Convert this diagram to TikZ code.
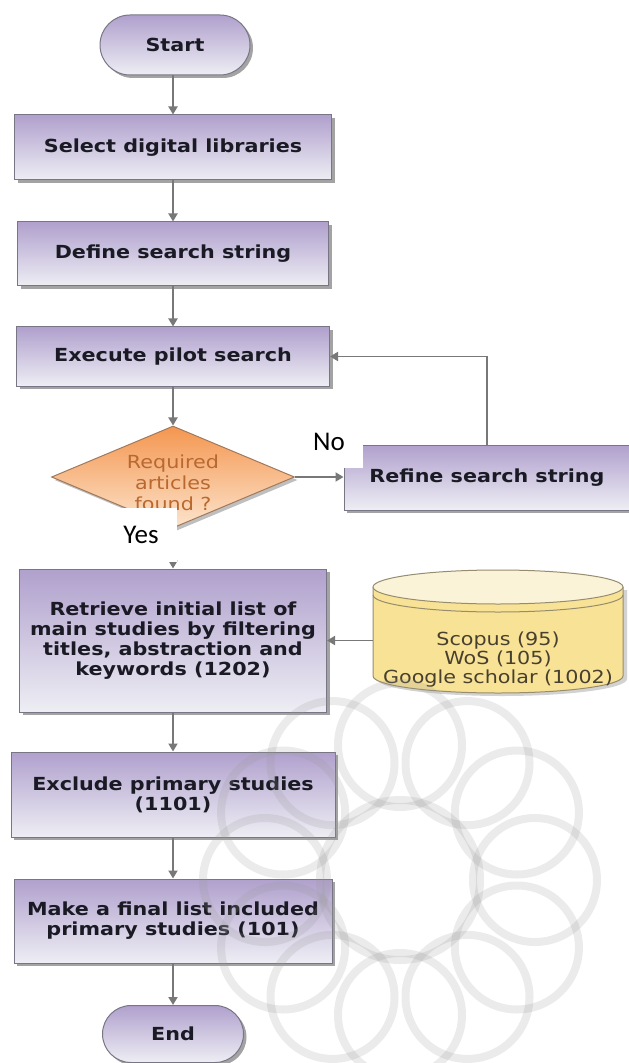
\documentclass[tikz,border=0pt]{standalone}
\usepackage{fontspec}
\setmainfont{DejaVu Sans}[FakeStretch=1.15]
\newfontfamily\yesnofont{Carlito}
\usetikzlibrary{shapes.geometric,shapes.misc,shadows,arrows.meta}

\definecolor{boxtop}{RGB}{176,160,205}
\definecolor{boxbot}{RGB}{238,238,244}
\definecolor{boxline}{RGB}{120,118,132}
\definecolor{boxtext}{RGB}{26,26,36}
\definecolor{linegray}{RGB}{120,120,120}
\definecolor{dectop}{RGB}{244,150,80}
\definecolor{decbot}{RGB}{252,228,204}
\definecolor{dectext}{RGB}{185,105,48}
\definecolor{dbtop}{RGB}{251,243,216}
\definecolor{dbbody}{RGB}{248,226,150}
\definecolor{dbline}{RGB}{150,140,110}
\definecolor{dbtext}{RGB}{72,64,46}

\begin{document}
\begin{tikzpicture}[x=0.5pt,y=-0.5pt,
    proc/.style={rectangle, draw=boxline, line width=0.5pt, top color=boxtop, bottom color=boxbot,
        drop shadow={shadow xshift=1.5pt, shadow yshift=-1.5pt, fill=black!60, opacity=0.6},
        font=\bfseries\fontsize{9}{10}\selectfont, text=boxtext, align=center, inner sep=0pt},
    term/.style={proc, rounded rectangle},
    decide/.style={diamond, aspect=2.38, draw=boxline!70!orange, line width=0.5pt, top color=dectop, bottom color=decbot,
        drop shadow={shadow xshift=1.5pt, shadow yshift=-1.5pt, fill=black!50, opacity=0.5}, inner sep=0pt},
    dectxt/.style={font=\fontsize{9}{10.5}\selectfont, text=dectext, align=center, inner sep=0pt},
    arr/.style={draw=linegray, line width=0.9pt, -{Triangle[width=4.5pt,length=4pt]}},
    yesno/.style={fill=white, font=\yesnofont\fontsize{13.5}{14}\selectfont, inner sep=0pt},
    mark line/.style={draw=gray!80, line width=4pt, opacity=0.2}
]
\useasboundingbox (0,0) rectangle (628,1063);

\node [term, minimum width=75pt, minimum height=30pt] (start) at (175,45) {Start};
\node [proc, minimum width=158.5pt, minimum height=32.5pt] (sel) at (173,147.5) {Select digital libraries};
\node [proc, minimum width=155.5pt, minimum height=32pt] (def) at (173,254) {Define search string};
\node [proc, minimum width=156.5pt, minimum height=29.5pt] (exe) at (173,356.5) {Execute pilot search};
\node [decide, minimum width=121.5pt, minimum height=51pt] (req) at (173,477) {};
\node [dectxt] (reqtext) at (173,483) {Required\\articles\\found ?};
\node [proc, minimum width=143pt, minimum height=32.5pt] (ref) at (487,477.5) {Refine search string};
\node [proc, minimum width=153.5pt, minimum height=71.5pt] (ret) at (173,640.5)
    {Retrieve initial list of\\main studies by filtering\\titles, abstraction and\\keywords (1202)};
\node [proc, minimum width=162pt, minimum height=42.5pt] (exc) at (173,794.5) {Exclude primary studies\\(1101)};
\node [proc, minimum width=159pt, minimum height=42pt] (fin) at (173,921) {Make a final list included\\primary studies (101)};
\node [term, minimum width=70.5pt, minimum height=28.5pt] (end) at (173,1034) {End};

\fill [black!35, opacity=0.5] (377,590) -- (377,679) arc [start angle=180, end angle=0, x radius=125, y radius=17] -- (627,590) -- cycle;
\draw [dbline, fill=dbbody, line width=0.5pt] (373,587) -- (373,676) arc [start angle=180, end angle=0, x radius=125, y radius=17] -- (623,587);
\draw [dbline, fill=dbtop, line width=0.5pt] (498,587) ellipse [x radius=125, y radius=17];
\draw [dbline, line width=0.5pt] (373,595) arc [start angle=180, end angle=0, x radius=125, y radius=17];
\node [font=\fontsize{9}{9.5}\selectfont, text=dbtext, align=center, minimum width=125pt, inner sep=0pt] (db) at (498,660)
    {Scopus (95)\\WoS (105)\\Google scholar (1002)};

\draw [arr] (start.south -| sel) -- (sel);
\draw [arr] (sel) -- (def);
\draw [arr] (def) -- (exe);
\draw [arr] (exe) -- (req);
\draw [arr] (req.east) -- (req.east -| ref.west);
\draw [arr] (ref.north) |- (exe.east);
\draw [arr] (req) -- (ret);
\draw [arr] (db.west |- ret.east) -- (ret.east);
\draw [arr] (ret) -- (exc);
\draw [arr] (exc) -- (fin);
\draw [arr] (fin) -- (end);

\node [yesno, minimum width=34pt, minimum height=26.5pt] (no) at (329,441.5) {No};
\node [yesno, minimum width=36pt, minimum height=27pt] (yes) at (141,535) {Yes};

\foreach \a in {0,30,...,330}
    \draw [mark line] (400,880) ++(\a:135) circle [radius=62];
\draw [mark line] (400,880) circle [radius=80];

\end{tikzpicture}
\end{document}
